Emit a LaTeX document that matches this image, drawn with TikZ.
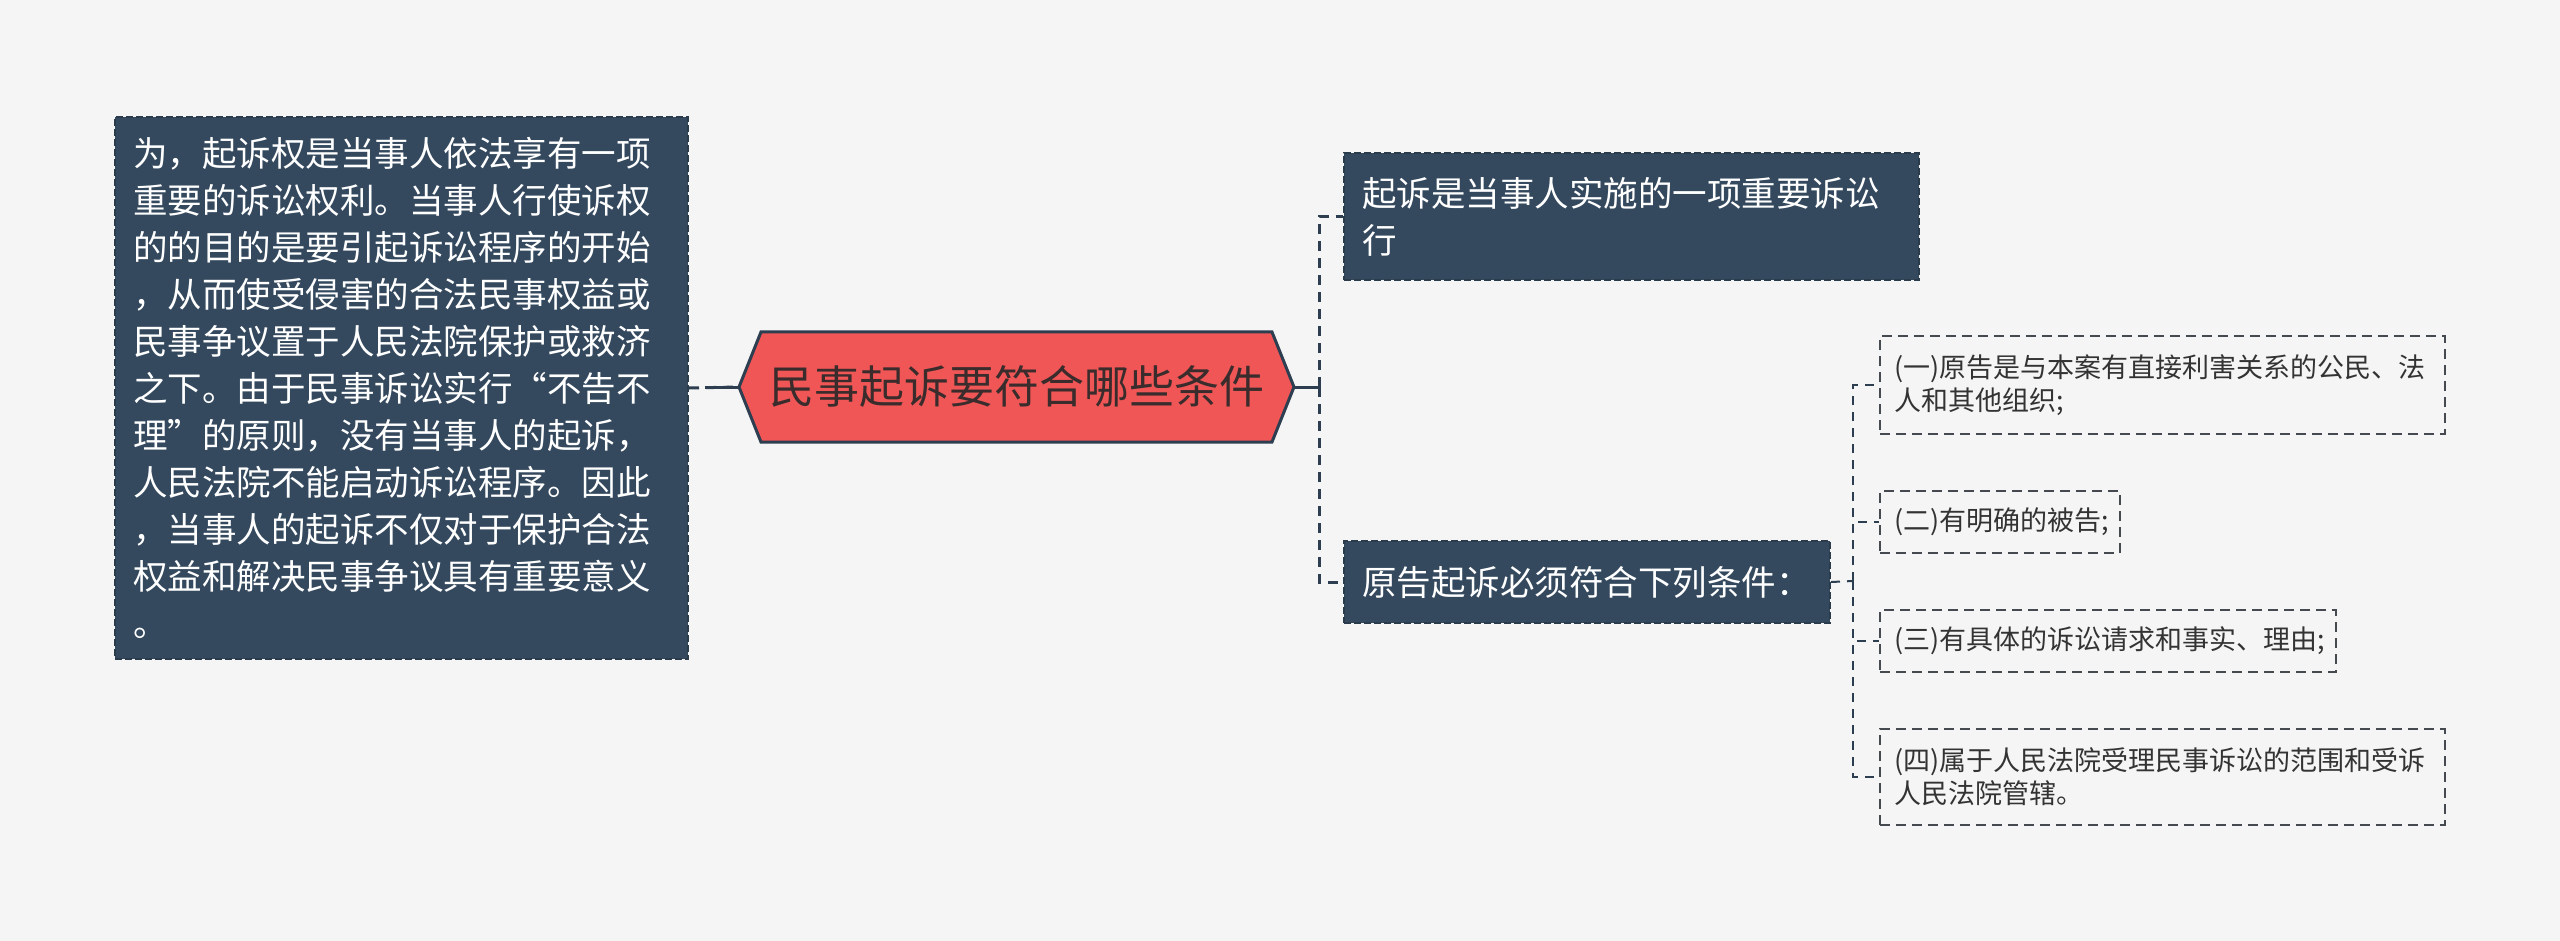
\documentclass[tikz,border=0pt]{standalone}
\usepackage{fontspec}
\setmainfont{Noto Sans CJK SC}
\definecolor{bgc}{HTML}{F5F5F5}
\definecolor{boxc}{HTML}{34495E}
\definecolor{boxb}{HTML}{2A3B4C}
\definecolor{hexc}{HTML}{F05656}
\definecolor{hext}{HTML}{3A2C2C}
\definecolor{linec}{HTML}{2C3E50}
\definecolor{subb}{HTML}{444A50}
\definecolor{subt}{HTML}{333333}
\begin{document}
\begin{tikzpicture}[x=1pt,y=-1pt,
  darkbox/.style={fill=boxc, draw=boxb, line width=2pt, dash pattern=on 7pt off 3pt,
    text=white, inner xsep=18pt, inner ysep=0pt, align=left, anchor=north west,
    font={\fontsize{34.5pt}{47pt}\selectfont}},
  subbox/.style={draw=subb, line width=2pt, dash pattern=on 10pt off 6pt,
    text=subt, inner xsep=14pt, inner ysep=0pt, align=left, anchor=north west,
    font={\fontsize{27pt}{33pt}\selectfont}},
  link/.style={draw=linec, line width=3pt, dash pattern=on 10pt off 7pt},
  solidlink/.style={draw=linec, line width=3pt},
  sublink/.style={draw=linec, line width=2pt, dash pattern=on 9pt off 7pt}]
\fill[bgc] (0,0) rectangle (2560,941);
\useasboundingbox (0,0) rectangle (2560,941);

% left box
\node[darkbox, minimum width=573pt, minimum height=542pt, text width=537pt] (L) at (114,116)
{为，起诉权是当事人依法享有一项\\重要的诉讼权利。当事人行使诉权\\的的目的是要引起诉讼程序的开始\\，从而使受侵害的合法民事权益或\\民事争议置于人民法院保护或救济\\之下。由于民事诉讼实行“不告不\\理”的原则，没有当事人的起诉，\\人民法院不能启动诉讼程序。因此\\，当事人的起诉不仅对于保护合法\\权益和解决民事争议具有重要意义\\。};

% center hexagon
\draw[fill=hexc, draw=linec, line width=3pt, line join=miter]
  (739,387) -- (761,332) -- (1272,332) -- (1294,387) -- (1272,442) -- (761,442) -- cycle;
\node[minimum width=555pt, minimum height=110pt, inner sep=0pt, text=hext,
  font={\fontsize{45pt}{50pt}\selectfont}] (H) at (1016.5,387) {民事起诉要符合哪些条件};

% right boxes
\node[darkbox, minimum width=575pt, minimum height=127pt, text width=539pt] (R1) at (1343,152)
{起诉是当事人实施的一项重要诉讼\\行};
\node[darkbox, minimum width=486pt, minimum height=82pt, text width=450pt] (R2) at (1343,540)
{原告起诉必须符合下列条件：};

% sub boxes
\node[subbox, minimum width=565pt, minimum height=98pt, text width=537pt] (S1) at (1879,335)
{(一)原告是与本案有直接利害关系的公民、法\\人和其他组织;};
\node[subbox, minimum width=240pt, minimum height=62pt, text width=212pt] (S2) at (1879,490)
{(二)有明确的被告;};
\node[subbox, minimum width=456pt, minimum height=62pt, text width=428pt] (S3) at (1879,609)
{(三)有具体的诉讼请求和事实、理由;};
\node[subbox, minimum width=565pt, minimum height=96pt, text width=537pt] (S4) at (1879,728)
{(四)属于人民法院受理民事诉讼的范围和受诉\\人民法院管辖。};

% connectors
\coordinate (T) at (1319,387);
\coordinate (ST) at (1853,581);
\draw[link] (L.east) -- (H.west);
\draw[solidlink] (H.west) -- ++(-34,0);
\draw[solidlink] (H.east) -- (T);
\draw[link] (T) |- (R1.west);
\draw[link] (T) |- (R2.west);
\draw[sublink] (R2.east) -- (ST);
\draw[sublink] (ST) |- (S1.west);
\draw[sublink] (ST) |- (S2.west);
\draw[sublink] (ST) |- (S3.west);
\draw[sublink] (ST) |- (S4.west);
\end{tikzpicture}
\end{document}
